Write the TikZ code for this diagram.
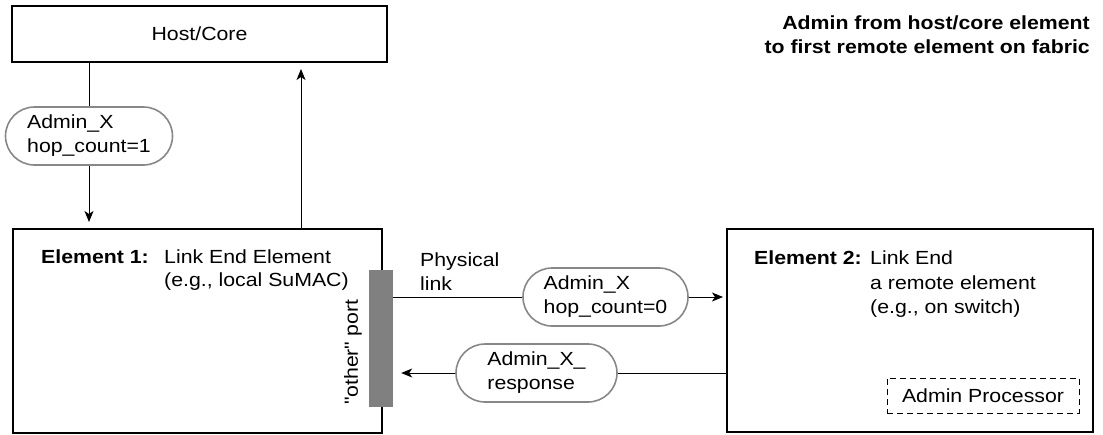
\documentclass[tikz,border=0pt]{standalone}
\usepackage{fontspec}
\setmainfont{Liberation Sans}[FakeStretch=1.12]
\usetikzlibrary{arrows.meta}
\definecolor{msggray}{RGB}{135,135,135}
\definecolor{portgray}{RGB}{128,128,128}
\begin{document}
\begin{tikzpicture}[x=1pt,y=-1pt,
  font=\fontsize{19}{22}\selectfont,
  box/.style={draw, line width=2pt, inner sep=0pt},
  msg/.style={draw=msggray, line width=1.6pt, rounded corners=29pt,
    minimum height=58pt, align=left, inner sep=0pt,
    font=\fontsize{19}{24}\selectfont},
  wire/.style={line width=1pt},
  arr/.style={wire, -{Stealth[length=11pt,width=9pt,inset=3pt]}},
  lbl/.style={anchor=base west, inner sep=0pt},
  ttl/.style={anchor=base east, inner sep=0pt, font=\fontsize{19}{22}\selectfont\bfseries}]
\useasboundingbox (0,0) rectangle (1103,434);

% title
\node[ttl] (t1) at (1090,29) {Admin from host/core element};
\node[ttl] (t2) at (1090,53) {to first remote element on fabric};

% blocks
\node[box, minimum width=375pt, minimum height=56pt] (host) at (199.5,34) {Host/Core};
\node[box, minimum width=369pt, minimum height=204pt] (el1) at (197.5,331) {};
\node[box, minimum width=366pt, minimum height=203pt] (el2) at (910,330.5) {};
\node[fill=portgray, minimum width=24pt, minimum height=137pt, inner sep=0pt] (port) at (381,338.5) {};
\node[draw, dashed, dash pattern=on 6pt off 4pt, line width=1pt,
      minimum width=192pt, minimum height=35pt, inner sep=0pt] (proc) at (983,395.5) {Admin Processor};

% block labels
\node[lbl, font=\fontsize{19}{22}\selectfont\bfseries] (e1a) at (41,263) {Element 1:};
\node[lbl] (e1b) at (164,263) {Link End Element};
\node[lbl] (e1c) at (164,286) {(e.g., local SuMAC)};
\node[lbl, font=\fontsize{19}{22}\selectfont\bfseries] (e2a) at (754,264) {Element 2:};
\node[lbl] (e2b) at (870,264) {Link End};
\node[lbl] (e2c) at (870,289) {a remote element};
\node[lbl] (e2d) at (870,313) {(e.g., on switch)};
\node[rotate=90, inner sep=0pt] (portlbl) at (353,352) {\textquotedbl other\textquotedbl\ port};
\node[lbl] (ph1) at (420,266) {Physical};
\node[lbl] (ph2) at (420,290) {link};

% messages
\node[msg, minimum width=167pt] (b1) at (89,136) {Admin\_X\\hop\_count=1};
\node[msg, minimum width=165pt] (b2) at (605.5,297) {Admin\_X\\hop\_count=0};
\node[msg, minimum width=161pt] (b3) at (536.5,373) {Admin\_X\_\\response};

% connectors
\coordinate (upx) at (301,0);
\draw[wire] (host.south -| b1.north) -- (b1.north);
\draw[arr, shorten >=6pt] (b1.south) -- (b1.south |- el1.north);
\draw[arr, shorten >=6pt] (el1.north -| upx) -- (host.south -| upx);
\draw[wire] (port.east |- b2.west) -- (b2.west);
\draw[arr, shorten >=3pt] (b2.east) -- (b2.east -| el2.west);
\draw[wire] (el2.west |- b3.east) -- (b3.east);
\draw[arr, shorten >=8pt] (b3.west) -- (b3.west -| port.east);
\end{tikzpicture}
\end{document}
